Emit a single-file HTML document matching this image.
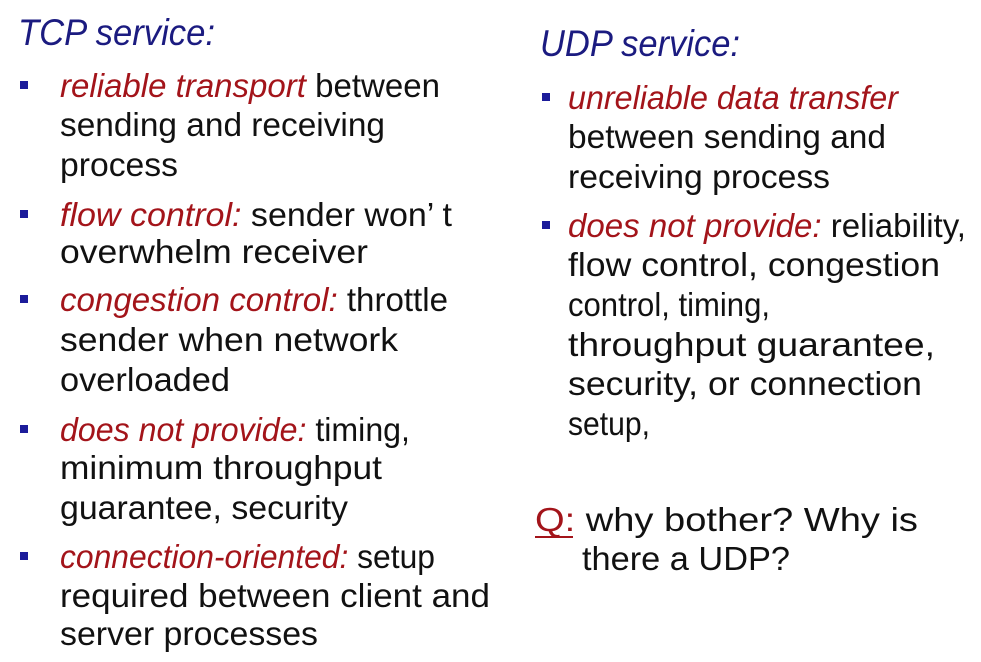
<!DOCTYPE html>
<html><head><meta charset="utf-8"><style>
html,body{margin:0;padding:0;background:#fff;}
svg{display:block;}
text{font-family:"Liberation Sans",sans-serif;font-size:33px;fill:#111;}
.r{fill:#a3141a;font-style:italic;}
.t{fill:#1b1b80;font-style:italic;font-size:37px;}
.b{fill:#1c1c9a;}
</style></head><body>
<svg width="981" height="662" viewBox="0 0 981 662" xmlns="http://www.w3.org/2000/svg">
<text class="t" x="18" y="45" textLength="197" lengthAdjust="spacingAndGlyphs">TCP service:</text>
<rect class="b" x="20" y="81" width="8" height="8"/>
<rect class="b" x="20" y="210" width="8" height="8"/>
<rect class="b" x="20" y="295" width="8" height="8"/>
<rect class="b" x="20" y="425" width="8" height="8"/>
<rect class="b" x="20" y="552" width="8" height="8"/>
<text x="60" y="97" textLength="380" lengthAdjust="spacingAndGlyphs"><tspan class="r">reliable transport</tspan> between</text>
<text x="60" y="136" textLength="325" lengthAdjust="spacingAndGlyphs">sending and receiving</text>
<text x="60" y="176" textLength="118" lengthAdjust="spacingAndGlyphs">process</text>
<text x="60" y="226" textLength="392" lengthAdjust="spacingAndGlyphs"><tspan class="r">flow control:</tspan> sender won’ t</text>
<text x="60" y="263" textLength="308" lengthAdjust="spacingAndGlyphs">overwhelm receiver</text>
<text x="60" y="311" textLength="388" lengthAdjust="spacingAndGlyphs"><tspan class="r">congestion control:</tspan> throttle</text>
<text x="60" y="351" textLength="338" lengthAdjust="spacingAndGlyphs">sender when network</text>
<text x="60" y="391" textLength="170" lengthAdjust="spacingAndGlyphs">overloaded</text>
<text x="60" y="441" textLength="350" lengthAdjust="spacingAndGlyphs"><tspan class="r">does not provide:</tspan> timing,</text>
<text x="60" y="479" textLength="322" lengthAdjust="spacingAndGlyphs">minimum throughput</text>
<text x="60" y="519" textLength="288" lengthAdjust="spacingAndGlyphs">guarantee, security</text>
<text x="60" y="568" textLength="375" lengthAdjust="spacingAndGlyphs"><tspan class="r">connection-oriented:</tspan> setup</text>
<text x="60" y="607" textLength="430" lengthAdjust="spacingAndGlyphs">required between client and</text>
<text x="60" y="645" textLength="258" lengthAdjust="spacingAndGlyphs">server processes</text>

<text class="t" x="540" y="56" textLength="200" lengthAdjust="spacingAndGlyphs">UDP service:</text>
<rect class="b" x="542" y="93" width="8" height="8"/>
<rect class="b" x="542" y="221" width="8" height="8"/>
<text x="568" y="109" textLength="330" lengthAdjust="spacingAndGlyphs"><tspan class="r">unreliable data transfer</tspan></text>
<text x="568" y="148" textLength="318" lengthAdjust="spacingAndGlyphs">between sending and</text>
<text x="568" y="188" textLength="262" lengthAdjust="spacingAndGlyphs">receiving process</text>
<text x="568" y="237" textLength="398" lengthAdjust="spacingAndGlyphs"><tspan class="r">does not provide:</tspan> reliability,</text>
<text x="568" y="276" textLength="372" lengthAdjust="spacingAndGlyphs">flow control, congestion</text>
<text x="568" y="316" textLength="202" lengthAdjust="spacingAndGlyphs">control, timing,</text>
<text x="568" y="356" textLength="367" lengthAdjust="spacingAndGlyphs">throughput guarantee,</text>
<text x="568" y="395" textLength="354" lengthAdjust="spacingAndGlyphs">security, or connection</text>
<text x="568" y="435" textLength="82" lengthAdjust="spacingAndGlyphs">setup,</text>
<text x="535" y="531" textLength="383" lengthAdjust="spacingAndGlyphs"><tspan fill="#a3141a">Q:</tspan> why bother?  Why is</text>
<rect x="535" y="536" width="38" height="2" fill="#a3141a"/>
<text x="582" y="570" textLength="208" lengthAdjust="spacingAndGlyphs">there a UDP?</text>
</svg>
</body></html>
